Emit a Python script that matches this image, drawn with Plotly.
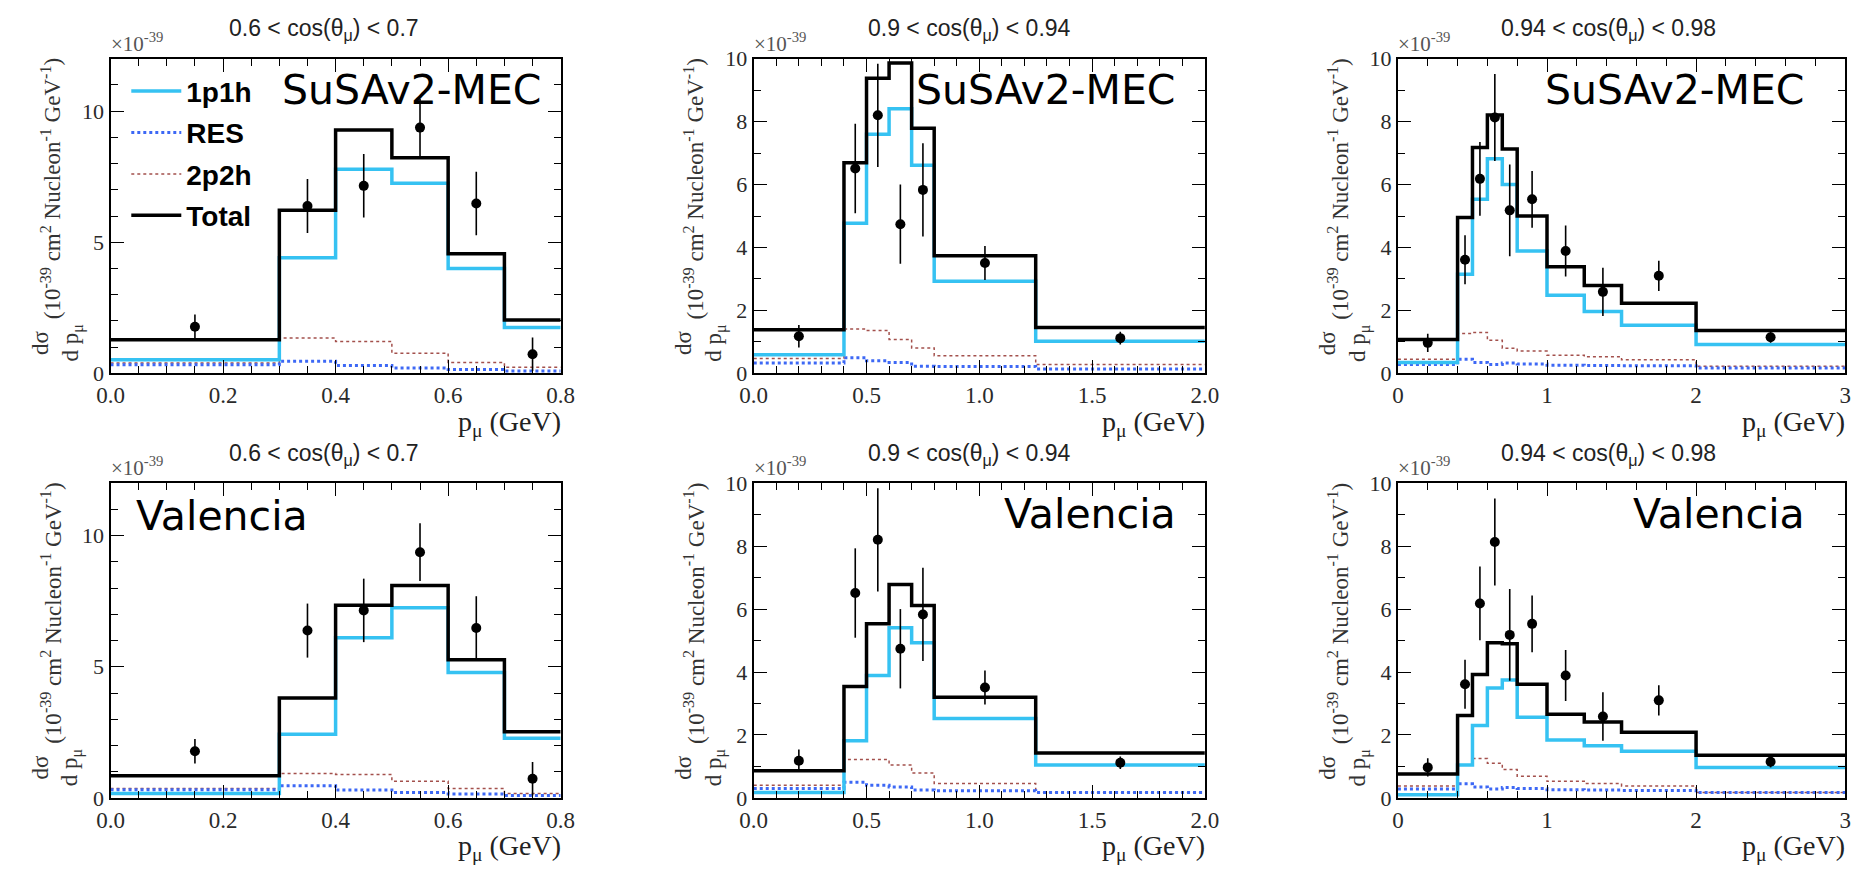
import plotly.graph_objects as go

W, H = 1868, 877

# ---------------- data ----------------
titles = ["0.6 &lt; cos(θ<sub>μ</sub>) &lt; 0.7",
          "0.9 &lt; cos(θ<sub>μ</sub>) &lt; 0.94",
          "0.94 &lt; cos(θ<sub>μ</sub>) &lt; 0.98"]
model_names = ["SuSAv2-MEC", "Valencia"]
legend_names = ["1p1h", "RES", "2p2h", "Total"]

edges_a = [0.0, 0.3, 0.4, 0.5, 0.6, 0.7, 0.8]
edges_b = [0.0, 0.4, 0.5, 0.6, 0.7, 0.8, 1.25, 2.0]
edges_c = [0.0, 0.4, 0.5, 0.6, 0.7, 0.8, 1.0, 1.25, 1.5, 2.0, 3.0]

data_x_a = [0.15, 0.35, 0.45, 0.55, 0.65, 0.75]
data_y_a = [1.78, 6.38, 7.15, 9.37, 6.48, 0.73]
data_err_a = [0.47, 1.03, 1.21, 1.10, 1.21, 0.64]

data_x_b = [0.2, 0.45, 0.55, 0.65, 0.75, 1.025, 1.625]
data_y_b = [1.18, 6.51, 8.20, 4.74, 5.83, 3.51, 1.12]
data_err_b = [0.36, 1.42, 1.64, 1.26, 1.48, 0.54, 0.20]

data_x_c = [0.2, 0.45, 0.55, 0.65, 0.75, 0.9, 1.125, 1.375, 1.75, 2.5]
data_y_c = [0.97, 3.61, 6.18, 8.13, 5.18, 5.53, 3.89, 2.59, 3.10, 1.15]
data_err_c = [0.29, 0.78, 1.17, 1.38, 1.46, 0.90, 0.81, 0.77, 0.48, 0.18]

# SuSAv2-MEC
susa_1p1h_a = [0.52, 4.41, 7.78, 7.25, 4.00, 1.75]
susa_res_a = [0.33, 0.46, 0.30, 0.21, 0.15, 0.09]
susa_2p2h_a = [0.40, 1.35, 1.22, 0.77, 0.42, 0.23]
susa_total_a = [1.28, 6.22, 9.28, 8.22, 4.56, 2.04]

susa_1p1h_b = [0.59, 4.77, 7.60, 8.41, 6.61, 2.93, 1.02]
susa_res_b = [0.33, 0.50, 0.40, 0.35, 0.23, 0.22, 0.14]
susa_2p2h_b = [0.47, 1.41, 1.36, 1.08, 0.81, 0.56, 0.28]
susa_total_b = [1.39, 6.69, 9.38, 9.86, 7.79, 3.74, 1.46]

susa_1p1h_c = [0.35, 3.15, 5.53, 6.82, 6.00, 3.89, 2.48, 1.97, 1.53, 0.92]
susa_res_c = [0.28, 0.45, 0.35, 0.28, 0.33, 0.30, 0.26, 0.25, 0.24, 0.17]
susa_2p2h_c = [0.45, 1.27, 1.30, 1.05, 0.80, 0.71, 0.58, 0.53, 0.43, 0.23]
susa_total_c = [1.08, 4.95, 7.18, 8.21, 7.13, 5.00, 3.39, 2.79, 2.23, 1.36]

# Valencia
val_1p1h_a = [0.17, 2.43, 6.11, 7.25, 4.78, 2.28]
val_res_a = [0.31, 0.46, 0.30, 0.21, 0.15, 0.09]
val_2p2h_a = [0.36, 0.93, 0.89, 0.64, 0.36, 0.17]
val_total_a = [0.85, 3.81, 7.35, 8.10, 5.27, 2.52]

val_1p1h_b = [0.17, 1.82, 3.89, 5.41, 4.93, 2.52, 1.05]
val_res_b = [0.30, 0.50, 0.40, 0.35, 0.25, 0.23, 0.17]
val_2p2h_b = [0.40, 1.22, 1.22, 1.05, 0.79, 0.46, 0.17]
val_total_b = [0.86, 3.54, 5.53, 6.78, 6.11, 3.20, 1.43]

val_1p1h_c = [0.10, 1.05, 2.30, 3.49, 3.75, 2.56, 1.84, 1.66, 1.48, 0.97]
val_res_c = [0.28, 0.45, 0.35, 0.28, 0.33, 0.30, 0.26, 0.25, 0.24, 0.17]
val_2p2h_c = [0.38, 1.05, 1.25, 1.10, 0.90, 0.69, 0.53, 0.46, 0.38, 0.17]
val_total_c = [0.76, 2.62, 3.92, 4.93, 4.90, 3.61, 2.66, 2.41, 2.09, 1.36]

# ---------------- layout helpers ----------------
col_px = [(98, 555), (751, 1209), (1405, 1859)]
row_px = [(48, 372), (485, 809)]
x_ranges = [[0, 0.8], [0, 2.0], [0, 3.0]]
y_ranges = [[0, 12], [0, 10], [0, 10]]
x_dticks = [0.2, 0.5, 1.0]
x_minor = [0.05, 0.1, 0.2]
x_fmt = [".1f", ".1f", "d"]
y_dticks = [5, 2, 2]
title_cx = [315, 970, 1619]


def px(v):
    return v / W


def py(v):
    return 1 - v / H


styles = {
    "1p1h": dict(color="#36C2F2", width=3.5),
    "RES": dict(color="#3D68F5", width=3, dash="dot"),
    "2p2h": dict(color="#A3504C", width=1.5, dash="dot"),
    "Total": dict(color="black", width=3.5),
}

edges = [edges_a, edges_b, edges_c]
data_x = [data_x_a, data_x_b, data_x_c]
data_y = [data_y_a, data_y_b, data_y_c]
data_err = [data_err_a, data_err_b, data_err_c]
models = [
    [dict(zip(legend_names, [susa_1p1h_a, susa_res_a, susa_2p2h_a, susa_total_a])),
     dict(zip(legend_names, [susa_1p1h_b, susa_res_b, susa_2p2h_b, susa_total_b])),
     dict(zip(legend_names, [susa_1p1h_c, susa_res_c, susa_2p2h_c, susa_total_c]))],
    [dict(zip(legend_names, [val_1p1h_a, val_res_a, val_2p2h_a, val_total_a])),
     dict(zip(legend_names, [val_1p1h_b, val_res_b, val_2p2h_b, val_total_b])),
     dict(zip(legend_names, [val_1p1h_c, val_res_c, val_2p2h_c, val_total_c]))],
]

fig = go.Figure()
annotations = []
layout_axes = {}
draw_order = ["2p2h", "RES", "1p1h", "Total"]
legend_rank = {"1p1h": 1, "RES": 2, "2p2h": 3, "Total": 4}

idx = 0
for r in range(2):
    for c in range(3):
        idx += 1
        xa = "x" if idx == 1 else f"x{idx}"
        ya = "y" if idx == 1 else f"y{idx}"
        xl = "xaxis" if idx == 1 else f"xaxis{idx}"
        yl = "yaxis" if idx == 1 else f"yaxis{idx}"
        e = edges[c]
        for name in draw_order:
            vals = models[r][c][name]
            fig.add_trace(go.Scatter(
                x=e, y=list(vals) + [vals[-1]], mode="lines", line_shape="hv",
                line=styles[name], name=name, legendrank=legend_rank[name],
                legendgroup=name, showlegend=(idx == 1), xaxis=xa, yaxis=ya,
                hoverinfo="skip"))
        fig.add_trace(go.Scatter(
            x=data_x[c], y=data_y[c], mode="markers",
            marker=dict(color="black", size=10),
            error_y=dict(type="data", array=data_err[c], color="black",
                         thickness=1.6, width=0),
            showlegend=False, xaxis=xa, yaxis=ya))

        x0, x1 = col_px[c]
        y0, y1 = row_px[r]
        common = dict(showline=True, linecolor="black", linewidth=2.2,
                      mirror="allticks", ticks="inside", ticklen=13,
                      tickwidth=1.4, tickcolor="black", showgrid=False,
                      zeroline=False)
        layout_axes[xl] = dict(common, domain=[px(x0), px(x1)], anchor=ya,
                               range=x_ranges[c], dtick=x_dticks[c], tick0=0,
                               tickformat=x_fmt[c],
                               tickfont=dict(family="Liberation Serif", size=23,
                                             color="#2a2a2a"),
                               minor=dict(ticks="inside", ticklen=7,
                                          tickwidth=1.2, tickcolor="black",
                                          dtick=x_minor[c], showgrid=False))
        layout_axes[yl] = dict(common, domain=[py(y1), py(y0)], anchor=xa,
                               range=y_ranges[c], dtick=y_dticks[c], tick0=0,
                               tickfont=dict(family="Liberation Serif", size=22,
                                             color="#2a2a2a"),
                               minor=dict(ticks="inside", ticklen=7,
                                          tickwidth=1.2, tickcolor="black",
                                          dtick=1, showgrid=False))

        dy = 0 if r == 0 else 437
        # panel title
        annotations.append(dict(
            text=titles[c], x=px(title_cx[c]), y=py(18 + dy), xref="paper",
            yref="paper", showarrow=False, xanchor="center", yanchor="middle",
            font=dict(family="Liberation Sans", size=23, color="#222")))
        # exponent
        annotations.append(dict(
            text="×10<sup>-39</sup>", x=px(x0 - 2), y=py(y0 - 1), xref="paper",
            yref="paper", showarrow=False, xanchor="left", yanchor="bottom",
            font=dict(family="Liberation Serif", size=21, color="#555")))
        # x title
        annotations.append(dict(
            text="p<sub>μ</sub> (GeV)", x=px(x1 + 2), y=py(y1 + 31),
            xref="paper", yref="paper", showarrow=False, xanchor="right",
            yanchor="top",
            font=dict(family="Liberation Serif", size=28, color="#222")))
        # y title
        annotations.append(dict(
            text="(10<sup>-39</sup> cm<sup>2</sup> Nucleon<sup>-1</sup> GeV<sup>-1</sup>)",
            x=px(x0 - 60), y=py(y0 + 134), xref="paper", yref="paper",
            showarrow=False, textangle=-90, xanchor="center", yanchor="middle",
            font=dict(family="Liberation Serif", size=23, color="#333")))
        annotations.append(dict(
            text="dσ<br>d p<sub>μ</sub>",
            x=px(x0 - 54), y=py(y0 + 293), xref="paper", yref="paper",
            showarrow=False, textangle=-90, xanchor="center", yanchor="middle",
            font=dict(family="Liberation Serif", size=23, color="#333")))
        # model label
        if r == 1 and c == 0:
            annotations.append(dict(
                text=model_names[r], x=px(x0 + 24), y=py(y0 + 34),
                xref="paper", yref="paper", showarrow=False, xanchor="left",
                yanchor="middle",
                font=dict(family="DejaVu Sans", size=41, color="black")))
        else:
            rx = [538, 1182, 1820][c]
            annotations.append(dict(
                text=model_names[r], x=px(rx), y=py(y0 + 32),
                xref="paper", yref="paper", showarrow=False, xanchor="right",
                yanchor="middle",
                font=dict(family="DejaVu Sans", size=41, color="black")))

fig.update_layout(
    width=W, height=H, margin=dict(l=0, r=0, t=0, b=0),
    paper_bgcolor="white", plot_bgcolor="white",
    annotations=annotations,
    legend=dict(x=px(114), y=py(56), xanchor="left", yanchor="top",
                bgcolor="rgba(0,0,0,0)", itemwidth=50,
                traceorder="grouped", tracegroupgap=2,
                font=dict(family="Liberation Sans", size=28, color="black",
                          weight="bold")),
    showlegend=True,
    **layout_axes,
)

fig.write_html("out.html")
